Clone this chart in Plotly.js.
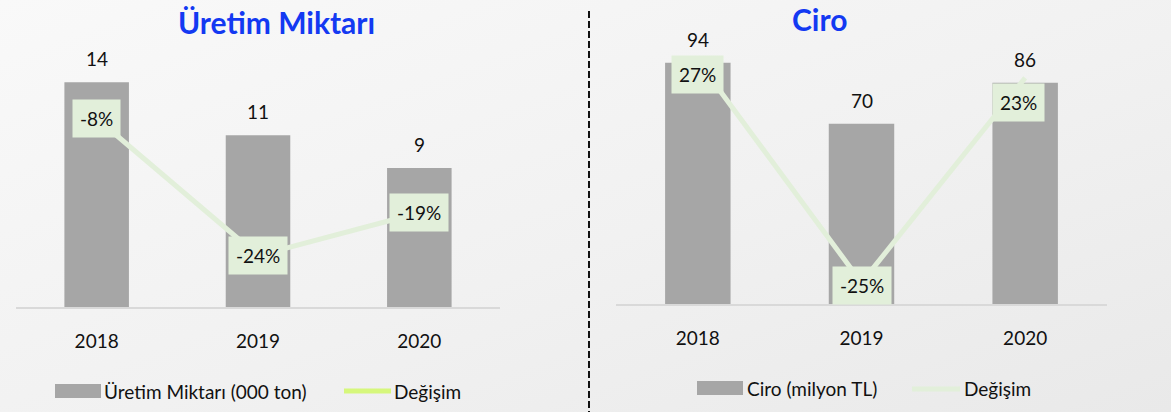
<!DOCTYPE html>
<html>
<head>
<meta charset="utf-8">
<script src="https://cdn.plot.ly/plotly-3.0.1.min.js"></script>
<style>
html,body{margin:0;padding:0;}
body{width:1171px;height:412px;background:linear-gradient(160deg,#f9f9f9 0%,#f1f1f1 55%,#e9e9e9 100%);overflow:hidden;}
#chart{width:1171px;height:412px;}
</style>
</head>
<body>
<div id="chart"></div>
<script>
// ---- data ----
var years = ['2018', '2019', '2020'];
var uretimMiktari = [14.0, 10.7, 8.65];      // 000 ton
var uretimDegisim = [-0.08, -0.24, -0.19];
var ciro = [94.2, 70.4, 86.4];               // milyon TL
var ciroDegisim = [0.27, -0.25, 0.23];
var titleLeft = 'Üretim Miktarı';
var titleRight = 'Ciro';
var legendLeftBar = 'Üretim Miktarı (000 ton)';
var legendRightBar = 'Ciro (milyon TL)';
var legendLine = 'Değişim';

// ---- style ----
var FONT = 'Lato, "Open Sans", sans-serif';
var BAR = '#a6a6a6';
var LINE = '#e2efda';
var BOX = '#e2efda';
var BLUE = '#1339f2';
var W = 1171, H = 412;
function px(x){ return x / W; }
function py(y){ return 1 - y / H; }

// label offsets (style only)
var leftOff = [[0,0],[0,0],[0,0]];
var rightOff = [[0,-14],[0,-3],[-7,-25]];

var traces = [
  {type:'bar', x:years, y:uretimMiktari, xaxis:'x', yaxis:'y', marker:{color:BAR}, width:0.4, hoverinfo:'skip', showlegend:false},
  {type:'scatter', mode:'lines', x:years, y:uretimDegisim, xaxis:'x', yaxis:'y2', line:{color:LINE, width:5}, hoverinfo:'skip', showlegend:false},
  {type:'bar', x:years, y:ciro, xaxis:'x2', yaxis:'y3', marker:{color:BAR}, width:0.4, hoverinfo:'skip', showlegend:false},
  {type:'scatter', mode:'lines', x:years, y:ciroDegisim, xaxis:'x2', yaxis:'y4', line:{color:LINE, width:5}, hoverinfo:'skip', showlegend:false}
];

var ann = [];
function pct(v){ return Math.round(v*100) + '%'; }
years.forEach(function(yr, i){
  // category axes: annotation x is the category's serial index
  ann.push({x:i, y:uretimMiktari[i], xref:'x', yref:'y', text:String(Math.round(uretimMiktari[i])), showarrow:false, xanchor:'center', yanchor:'bottom', yshift:10, font:{family:FONT, size:19, color:'#111'}});
  ann.push({x:i, y:uretimDegisim[i], xref:'x', yref:'y2', text:pct(uretimDegisim[i]), showarrow:false, xanchor:'center', yanchor:'middle', bgcolor:BOX, borderpad:7, xshift:leftOff[i][0], yshift:leftOff[i][1], font:{family:FONT, size:19, color:'#111'}});
  ann.push({x:i, y:ciro[i], xref:'x2', yref:'y3', text:String(Math.round(ciro[i])), showarrow:false, xanchor:'center', yanchor:'bottom', yshift:10, font:{family:FONT, size:19, color:'#111'}});
  ann.push({x:i, y:ciroDegisim[i], xref:'x2', yref:'y4', text:pct(ciroDegisim[i]), showarrow:false, xanchor:'center', yanchor:'middle', bgcolor:BOX, borderpad:7, xshift:rightOff[i][0], yshift:rightOff[i][1], font:{family:FONT, size:19, color:'#111'}});
});
// titles
ann.push({x:px(276), y:py(22), xref:'paper', yref:'paper', xanchor:'center', yanchor:'middle', text:'<b>'+titleLeft+'</b>', showarrow:false, font:{family:FONT, size:30, color:BLUE}});
ann.push({x:px(819), y:py(19), xref:'paper', yref:'paper', xanchor:'center', yanchor:'middle', text:'<b>'+titleRight+'</b>', showarrow:false, font:{family:FONT, size:30, color:BLUE}});
// legends (custom)
function legText(t, x, y){ return {x:px(x), y:py(y), xref:'paper', yref:'paper', text:t, showarrow:false, xanchor:'left', yanchor:'middle', font:{family:FONT, size:19, color:'#111'}}; }
ann.push(legText(legendLeftBar, 102, 391));
ann.push(legText(legendLine, 392, 391));
ann.push(legText(legendRightBar, 745, 388));
ann.push(legText(legendLine, 962, 388));

var shapes = [
  {type:'line', xref:'paper', yref:'paper', x0:px(589), x1:px(589), y0:py(11), y1:0, line:{color:'#111', width:2, dash:'7px,3px'}},
  {type:'rect', xref:'paper', yref:'paper', x0:px(55), x1:px(101), y0:py(384), y1:py(398), fillcolor:BAR, line:{width:0}},
  {type:'line', xref:'paper', yref:'paper', x0:px(344), x1:px(391), y0:py(391), y1:py(391), line:{color:'#d6f77c', width:5}},
  {type:'rect', xref:'paper', yref:'paper', x0:px(697), x1:px(743), y0:py(381), y1:py(395), fillcolor:BAR, line:{width:0}},
  {type:'line', xref:'paper', yref:'paper', x0:px(912), x1:px(960), y0:py(389), y1:py(389), line:{color:LINE, width:5}}
];

var xbase = {type:'category', showgrid:false, zeroline:false, showline:true, linecolor:'#d9d9d9', linewidth:2, ticks:'', ticklabelstandoff:16, tickfont:{family:FONT, size:19, color:'#111'}, fixedrange:true};
var ybase = {showgrid:false, zeroline:false, showline:false, showticklabels:false, ticks:'', fixedrange:true};

var layout = {
  width:W, height:H,
  margin:{l:0, r:0, t:0, b:0},
  paper_bgcolor:'rgba(0,0,0,0)', plot_bgcolor:'rgba(0,0,0,0)',
  showlegend:false,
  bargap:0.6,
  xaxis:Object.assign({}, xbase, {domain:[px(16), px(500)], anchor:'y', range:[-0.5, 2.5]}),
  yaxis:Object.assign({}, ybase, {domain:[py(307), py(50)], anchor:'x', range:[0, 16]}),
  yaxis2:Object.assign({}, ybase, {overlaying:'y', anchor:'x', side:'right', range:[-0.30, 0]}),
  xaxis2:Object.assign({}, xbase, {domain:[px(616), px(1107)], anchor:'y3', range:[-0.5, 2.5]}),
  yaxis3:Object.assign({}, ybase, {domain:[py(304), py(48)], anchor:'x2', range:[0, 100]}),
  yaxis4:Object.assign({}, ybase, {overlaying:'y3', anchor:'x2', side:'right', range:[-0.30, 0.30]}),
  annotations:ann,
  shapes:shapes
};

Plotly.newPlot('chart', traces, layout, {displayModeBar:false, staticPlot:true});
</script>
</body>
</html>
